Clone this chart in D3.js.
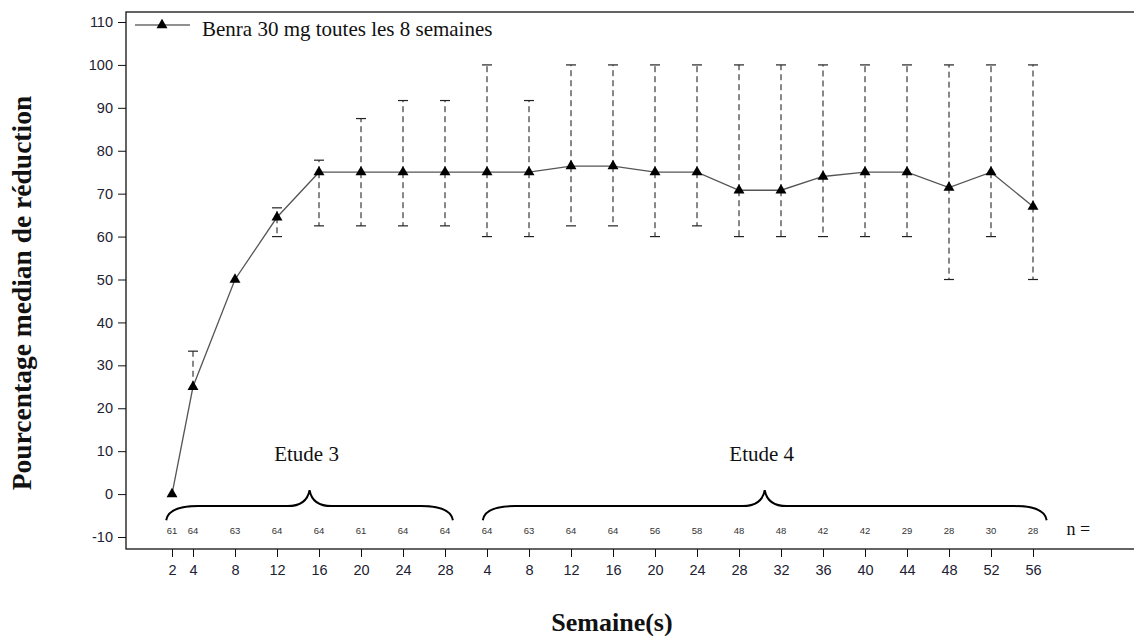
<!DOCTYPE html>
<html>
<head>
<meta charset="utf-8">
<script src="https://cdn.jsdelivr.net/npm/d3@7"></script>
<style>
  body { margin: 0; background: #fff; }
  svg { display: block; }
</style>
</head>
<body>
<div id="chart"></div>
<script>
// ---- data ----
// Etude 3 and Etude 4 weeks; Etude 4 is shifted by 28 weeks on the axis
const study3_weeks = [2, 4, 8, 12, 16, 20, 24, 28];
const study3_median = [0, 25, 50, 64.5, 75, 75, 75, 75];
const study3_upper = [0, 33.3, 50, 66.7, 77.8, 87.5, 91.7, 91.7];
const study3_lower = [0, 25, 50, 60, 62.5, 62.5, 62.5, 62.5];
const study3_n = [61, 64, 63, 64, 64, 61, 64, 64];

const study4_weeks = [4, 8, 12, 16, 20, 24, 28, 32, 36, 40, 44, 48, 52, 56];
const study4_median = [75, 75, 76.4, 76.4, 75, 75, 70.8, 70.8, 74, 75, 75, 71.4, 75, 67];
const study4_upper = [100, 91.7, 100, 100, 100, 100, 100, 100, 100, 100, 100, 100, 100, 100];
const study4_lower = [60, 60, 62.5, 62.5, 60, 62.5, 60, 60, 60, 60, 60, 50, 60, 50];
const study4_n = [64, 63, 64, 64, 56, 58, 48, 48, 42, 42, 29, 28, 30, 28];

const study4_offset = 28;
const y_ticks = [-10, 0, 10, 20, 30, 40, 50, 60, 70, 80, 90, 100, 110];

const series_label = "Benra 30 mg toutes les 8 semaines";
const x_title = "Semaine(s)";
const y_title = "Pourcentage median de réduction";

// brace spans in axis units (combined week position)
const braces = [
    {label: "Etude 3", from: 1.45, to: 28.75},
    {label: "Etude 4", from: 31.6, to: 85.3}
];

// build one table out of the arrays
let points = [];
study3_weeks.forEach((w, i) => points.push({
    pos: w, label: w, median: study3_median[i], upper: study3_upper[i], lower: study3_lower[i], n: study3_n[i]
}));
study4_weeks.forEach((w, i) => points.push({
    pos: w + study4_offset, label: w, median: study4_median[i], upper: study4_upper[i], lower: study4_lower[i], n: study4_n[i]
}));

// ---- layout ----
const width = 1134, height = 636;
const box = {left: 126, top: 12, right: 1140, bottom: 549};

const svg = d3.select('#chart').append('svg')
    .attr('width', width)
    .attr('height', height);

const x = d3.scaleLinear().domain([2, 84]).range([172, 1033]);
const y = d3.scaleLinear().domain([-10, 110]).range([537, 22]);

const serif = "'Liberation Serif', 'Times New Roman', serif";
const sans = "'Liberation Sans', Arial, sans-serif";

// plot frame
svg.append('rect')
    .attr('x', box.left).attr('y', box.top)
    .attr('width', box.right - box.left).attr('height', box.bottom - box.top)
    .attr('fill', 'none').attr('stroke', '#111').attr('stroke-width', 1.3);

// y axis
const yAxis = svg.append('g')
    .attr('transform', 'translate(' + box.left + ',0)')
    .call(d3.axisLeft(y).tickValues(y_ticks).tickFormat(d => String(d)).tickSize(8).tickPadding(5));
yAxis.select('.domain').remove();
yAxis.selectAll('line').attr('stroke', '#111');
yAxis.selectAll('text').attr('font-family', sans).attr('font-size', 14.5).attr('fill', '#1c2233');

// x axis
const xAxis = svg.append('g')
    .attr('transform', 'translate(0,' + box.bottom + ')')
    .call(d3.axisBottom(x)
        .tickValues(points.map(d => d.pos))
        .tickFormat((d, i) => points[i].label)
        .tickSize(8).tickPadding(8));
xAxis.select('.domain').remove();
xAxis.selectAll('line').attr('stroke', '#111');
xAxis.selectAll('text').attr('font-family', sans).attr('font-size', 14.5).attr('fill', '#1c2233');

// error bars
const bars = svg.append('g');
points.forEach(d => {
    [d.upper, d.lower].forEach(v => {
        if (Math.abs(v - d.median) < 0.01) return;
        bars.append('line')
            .attr('x1', x(d.pos)).attr('x2', x(d.pos))
            .attr('y1', y(d.median)).attr('y2', y(v))
            .attr('stroke', '#111').attr('stroke-width', 1)
            .attr('stroke-dasharray', '6,4');
        bars.append('line')
            .attr('x1', x(d.pos) - 5).attr('x2', x(d.pos) + 5)
            .attr('y1', y(v)).attr('y2', y(v))
            .attr('stroke', '#222').attr('stroke-width', 1.2);
    });
});

// median line
const line = d3.line().x(d => x(d.pos)).y(d => y(d.median));
svg.append('path')
    .datum(points)
    .attr('d', line)
    .attr('fill', 'none')
    .attr('stroke', '#555')
    .attr('stroke-width', 1.3);

// triangles
const tri = d3.symbol().type(d3.symbolTriangle).size(52);
svg.append('g').selectAll('path')
    .data(points)
    .join('path')
    .attr('d', tri)
    .attr('transform', d => 'translate(' + x(d.pos) + ',' + y(d.median) + ')')
    .attr('fill', '#000');

// n = labels
svg.append('g').selectAll('text')
    .data(points)
    .join('text')
    .attr('x', d => x(d.pos))
    .attr('y', y(-9.2))
    .attr('text-anchor', 'middle')
    .attr('font-family', sans)
    .attr('font-size', 9.5)
    .attr('fill', '#333')
    .text(d => d.n);

svg.append('text')
    .attr('x', x(87.2))
    .attr('y', y(-9.6))
    .attr('font-family', serif)
    .attr('font-size', 18)
    .attr('fill', '#111')
    .text('n =');

// braces
function bracePath(b) {
    const x0 = x(b.from), x1 = x(b.to), xm = (x0 + x1) / 2;
    const yb = y(-6.1), yh = y(-2.8), yt = y(0.9);
    const r = 32, c = 22;
    const p = d3.path();
    p.moveTo(x0, yb);
    p.quadraticCurveTo(x0 + 2, yh, x0 + r, yh);
    p.lineTo(xm - c, yh);
    p.quadraticCurveTo(xm - 3, yh, xm, yt);
    p.quadraticCurveTo(xm + 3, yh, xm + c, yh);
    p.lineTo(x1 - r, yh);
    p.quadraticCurveTo(x1 - 2, yh, x1, yb);
    return p.toString();
}

const braceG = svg.append('g');
braces.forEach(b => {
    braceG.append('path')
        .attr('d', bracePath(b))
        .attr('fill', 'none')
        .attr('stroke', '#000')
        .attr('stroke-width', 2);
    braceG.append('text')
        .attr('x', (x(b.from) + x(b.to)) / 2 - 3)
        .attr('y', y(7.7))
        .attr('text-anchor', 'middle')
        .attr('font-family', serif)
        .attr('font-size', 21)
        .attr('fill', '#111')
        .text(b.label);
});

// legend
const legend = svg.append('g');
legend.append('line')
    .attr('x1', 135).attr('x2', 190)
    .attr('y1', 25).attr('y2', 25)
    .attr('stroke', '#222').attr('stroke-width', 1.2);
legend.append('path')
    .attr('d', tri)
    .attr('transform', 'translate(162,25)')
    .attr('fill', '#000');
legend.append('text')
    .attr('x', 202).attr('y', 36)
    .attr('font-family', serif)
    .attr('font-size', 21)
    .attr('fill', '#111')
    .text(series_label);

// axis titles
svg.append('text')
    .attr('x', 612).attr('y', 631)
    .attr('text-anchor', 'middle')
    .attr('font-family', serif)
    .attr('font-weight', 'bold')
    .attr('font-size', 26)
    .attr('fill', '#111')
    .text(x_title);

svg.append('text')
    .attr('transform', 'translate(31,293) rotate(-90)')
    .attr('text-anchor', 'middle')
    .attr('font-family', serif)
    .attr('font-weight', 'bold')
    .attr('font-size', 27.5)
    .attr('fill', '#111')
    .text(y_title);
</script>
</body>
</html>
